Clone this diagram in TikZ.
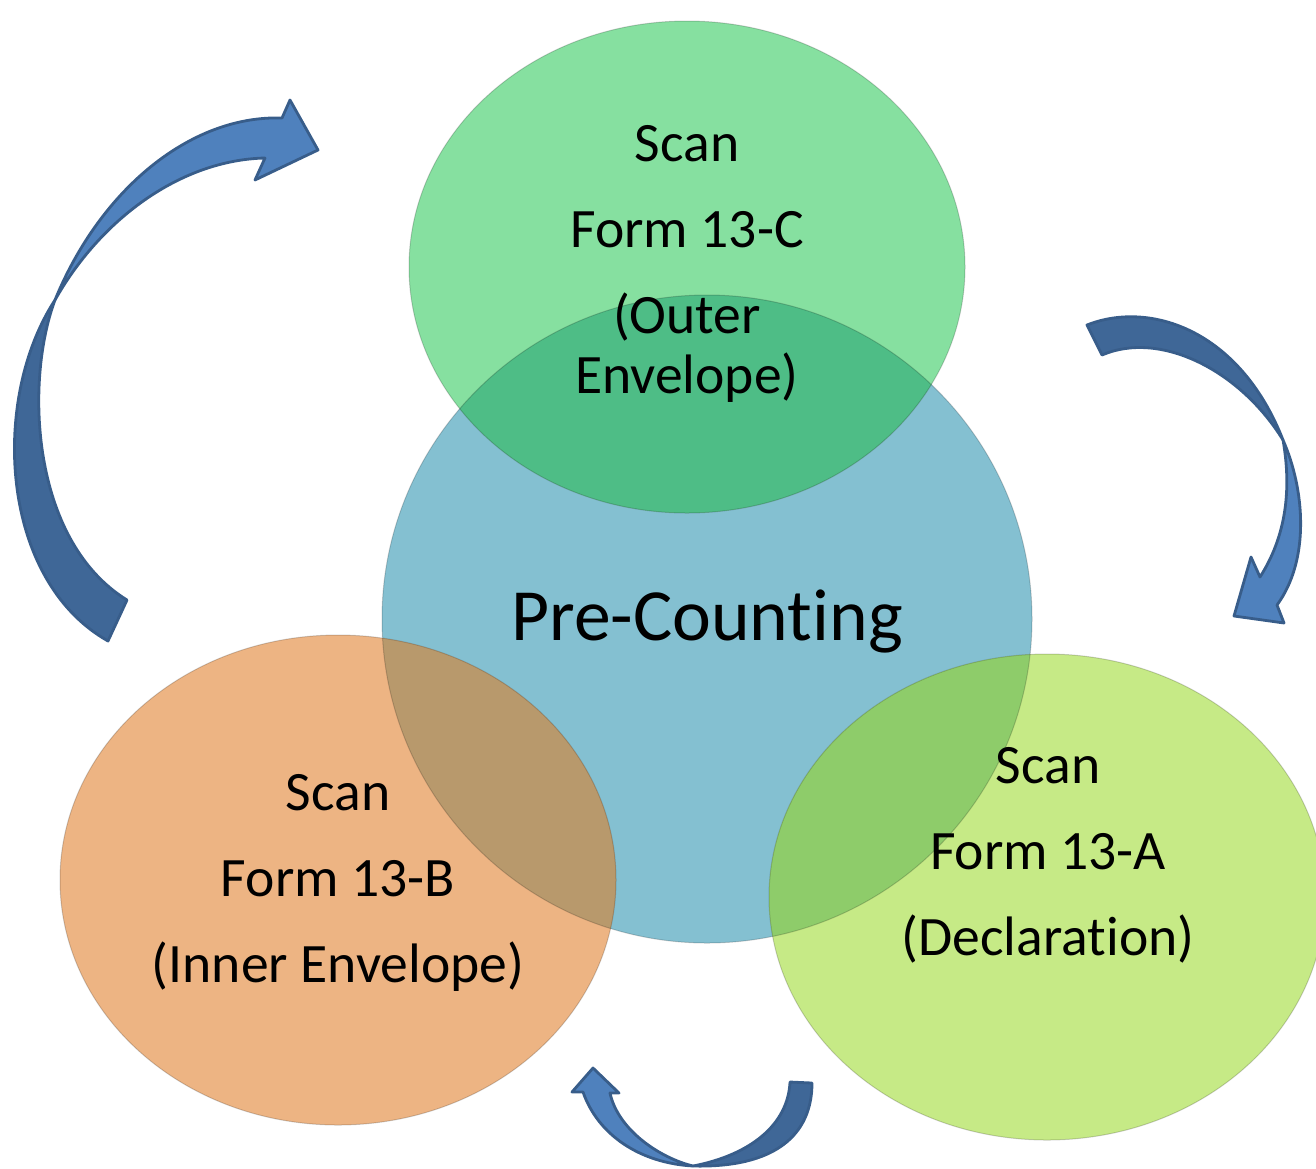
\documentclass[tikz,border=0pt]{standalone}
\usepackage{fontspec}
\setmainfont{Carlito}[RawFeature={-liga}]
\definecolor{bluec}{HTML}{84C0D1}
\definecolor{greenc}{HTML}{86E0A0}
\definecolor{orangec}{HTML}{EDB483}
\definecolor{limec}{HTML}{C6EA86}
\definecolor{gbc}{HTML}{4EBD86}
\definecolor{obc}{HTML}{B8996C}
\definecolor{lbc}{HTML}{8ECC6A}
\definecolor{arrowlight}{HTML}{4F81BD}
\definecolor{arrowdark}{HTML}{3F6797}
\definecolor{arrowline}{HTML}{385D8A}
\begin{document}
\begin{tikzpicture}[x=0.5pt,y=-0.5pt,
  lbl/.style={anchor=base,inner sep=0pt,font=\fontsize{27.8}{33}\selectfont},
  ttl/.style={anchor=base,inner sep=0pt,font=\fontsize{36.8}{44}\selectfont},
  rim/.style={draw=black,draw opacity=0.18,line width=0.5pt},
  arrowback/.style={fill=arrowdark,draw=arrowline,line width=1.4pt,line join=round},
  arrowfront/.style={fill=arrowlight,draw=arrowline,line width=1.4pt,line join=round}]
\useasboundingbox (0,0) rectangle (1316,1168);
% circles
\fill[bluec] (707,619) ellipse [x radius=325,y radius=324];
\fill[greenc] (687,267) ellipse [x radius=278,y radius=246];
\fill[orangec] (338,880) ellipse [x radius=278,y radius=245];
\fill[limec] (1047,897) ellipse [x radius=278,y radius=243];
\begin{scope}
  \clip (707,619) ellipse [x radius=325,y radius=324];
  \fill[gbc] (687,267) ellipse [x radius=278,y radius=246];
  \fill[obc] (338,880) ellipse [x radius=278,y radius=245];
  \fill[lbc] (1047,897) ellipse [x radius=278,y radius=243];
\end{scope}
\path[rim] (707,619) ellipse [x radius=325,y radius=324];
\path[rim] (687,267) ellipse [x radius=278,y radius=246];
\path[rim] (338,880) ellipse [x radius=278,y radius=245];
\path[rim] (1047,897) ellipse [x radius=278,y radius=243];
% left arrow
\path[arrowback] (108,641) .. controls (0,580) and (-10,400) .. (55,300)
  .. controls (25,380) and (30,540) .. (127,600) -- cycle;
\path[arrowfront] (55,300) .. controls (100,190) and (190,115) .. (282,118)
  -- (290,100) -- (318,150) -- (255,180) -- (265,158)
  .. controls (180,160) and (100,220) .. (55,300) -- cycle;
% right arrow
\path[arrowback] (1087,325) .. controls (1150,300) and (1240,330) .. (1283,440)
  .. controls (1240,370) and (1160,330) .. (1102,355) -- cycle;
\path[arrowfront] (1283,440) .. controls (1305,490) and (1310,560) .. (1277,605)
  -- (1284,623) -- (1234,616) -- (1251,557) -- (1260,577)
  .. controls (1290,530) and (1290,480) .. (1283,440) -- cycle;
% bottom arrow
\path[arrowback] (693,1166) .. controls (775,1168) and (812,1135) .. (812,1083)
  -- (790,1082) .. controls (788,1125) and (750,1155) .. (693,1166) -- cycle;
\path[arrowfront] (693,1166) .. controls (640,1163) and (598,1135) .. (583,1092)
  -- (572,1092) -- (593,1068) -- (619,1093) -- (610,1093)
  .. controls (618,1130) and (660,1158) .. (693,1166) -- cycle;
% texts
\node[lbl] (c1) at (687,161) {Scan};
\node[lbl] (c2) at (687,247) {Form 13-C};
\node[lbl] (c3) at (687,333) {(Outer};
\node[lbl] (c4) at (687,393) {Envelope)};
\node[ttl] (pc) at (707,640) {Pre-Counting};
\node[lbl] (b1) at (338,810) {Scan};
\node[lbl] (b2) at (338,896) {Form 13-B};
\node[lbl] (b3) at (338,982) {(Inner Envelope)};
\node[lbl] (a1) at (1048,783) {Scan};
\node[lbl] (a2) at (1048,869) {Form 13-A};
\node[lbl] (a3) at (1048,955) {(Declaration)};
\end{tikzpicture}
\end{document}
